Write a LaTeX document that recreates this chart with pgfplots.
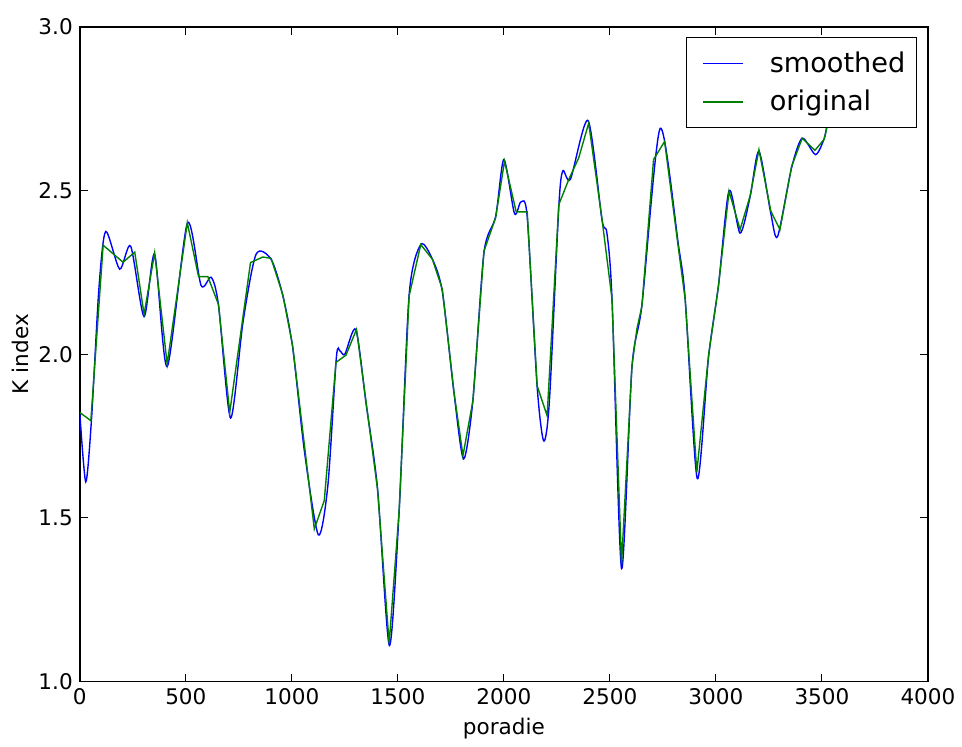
\documentclass[border=0pt]{standalone}
\usepackage{pgfplots}
\pgfplotsset{compat=1.18}
\usepackage{fontspec}
\setmainfont{DejaVu Sans}
\definecolor{mplblue}{RGB}{0,0,255}
\definecolor{mplgreen}{RGB}{0,128,0}
\begin{document}
\begin{tikzpicture}
\begin{axis}[
  scale only axis,
  width=425pt, height=328pt,
  xmin=0, xmax=4000, ymin=1, ymax=3,
  xtick={0,500,...,4000},
  ytick={1,1.5,2,2.5,3},
  /pgf/number format/assume math mode=true,
  /pgf/number format/1000 sep={},
  yticklabel style={/pgf/number format/.cd, fixed, fixed zerofill, precision=1},
  tick label style={font=\fontsize{10.8}{12}\selectfont},
  label style={font=\fontsize{10.8}{12}\selectfont},
  xlabel={poradie},
  ylabel={K index},
  ylabel style={yshift=-2pt},
  tick align=inside,
  major tick length=4pt,
  axis line style={line width=0.75pt},
  every tick/.style={black, line width=0.5pt},
  legend style={at={(0.987,0.9848)}, anchor=north east, draw=black, line width=0.6pt,
    font=\fontsize{13.6}{15}\selectfont, inner xsep=4.5pt, inner ysep=5pt, row sep=3.5pt,
    column sep=12pt, nodes={inner xsep=1pt}},
  legend cell align=left,
  legend image code/.code={\path (0pt,0pt); \draw[#1, line width=0.75pt] (3.5pt,0pt) -- (23.5pt,0pt);},
]
\addplot[mplblue, line width=0.7pt, smooth, tension=0.45] coordinates {
(0,1.82) (28,1.61) (55,1.80) (90,2.20) (122,2.375) (188,2.26) (240,2.33) (303,2.115)
(353,2.305) (412,1.962) (507,2.40) (572,2.21) (620,2.235) (654,2.15) (711,1.805)
(770,2.10) (831,2.305) (902,2.29) (957,2.18) (1004,2.02) (1060,1.70) (1125,1.448)
(1170,1.60) (1210,1.99) (1227,2.01) (1250,2.00) (1302,2.075) (1350,1.85) (1404,1.59)
(1460,1.11) (1506,1.52) (1553,2.18) (1608,2.335) (1663,2.29) (1710,2.19) (1765,1.88)
(1810,1.68) (1854,1.86) (1906,2.31) (1961,2.42) (2000,2.595) (2050,2.43) (2080,2.465)
(2110,2.42) (2157,1.90) (2188,1.735) (2215,1.86) (2259,2.45) (2278,2.56) (2314,2.535)
(2397,2.714) (2463,2.41) (2486,2.37) (2510,2.17) (2555,1.345) (2604,1.96) (2651,2.15)
(2737,2.69) (2824,2.33) (2855,2.17) (2912,1.62) (2965,1.99) (3012,2.21) (3062,2.50)
(3114,2.37) (3161,2.48) (3203,2.62) (3259,2.43) (3291,2.36) (3357,2.57) (3407,2.66)
(3470,2.61) (3511,2.66) (3530,2.72) (3560,2.80)
};
\addlegendentry{smoothed}
\addplot[mplgreen, line width=0.7pt] coordinates {
(0,1.822) (52,1.797) (110,2.333) (204,2.281) (259,2.312) (303,2.122) (353,2.310)
(412,1.970) (507,2.402) (560,2.237) (604,2.237) (654,2.152) (707,1.822) (805,2.280)
(863,2.297) (902,2.293) (957,2.183) (1004,2.025) (1106,1.466) (1153,1.553) (1208,1.975)
(1255,1.997) (1305,2.076) (1404,1.588) (1459,1.116) (1506,1.522) (1553,2.178)
(1608,2.335) (1663,2.290) (1710,2.198) (1765,1.883) (1807,1.690) (1854,1.858)
(1906,2.315) (1961,2.417) (2003,2.59) (2058,2.435) (2110,2.435) (2157,1.903)
(2204,1.812) (2259,2.457) (2306,2.534) (2353,2.60) (2400,2.706) (2463,2.412)
(2510,2.168) (2555,1.36) (2604,1.964) (2627,2.076) (2651,2.147) (2706,2.595)
(2758,2.650) (2824,2.320) (2855,2.168) (2910,1.639) (2965,1.995) (3012,2.208)
(3062,2.498) (3114,2.381) (3161,2.483) (3203,2.625) (3259,2.437) (3302,2.381)
(3357,2.574) (3407,2.660) (3467,2.623) (3511,2.657) (3560,2.80)
};
\addlegendentry{original}
\end{axis}
\path (current axis.south west) ++(-40pt,-28.5pt) coordinate (bbl);
\path (current axis.north east) ++(16pt,13.5pt) coordinate (bbr);
\path (bbl) rectangle (bbr);
\end{tikzpicture}
\end{document}
